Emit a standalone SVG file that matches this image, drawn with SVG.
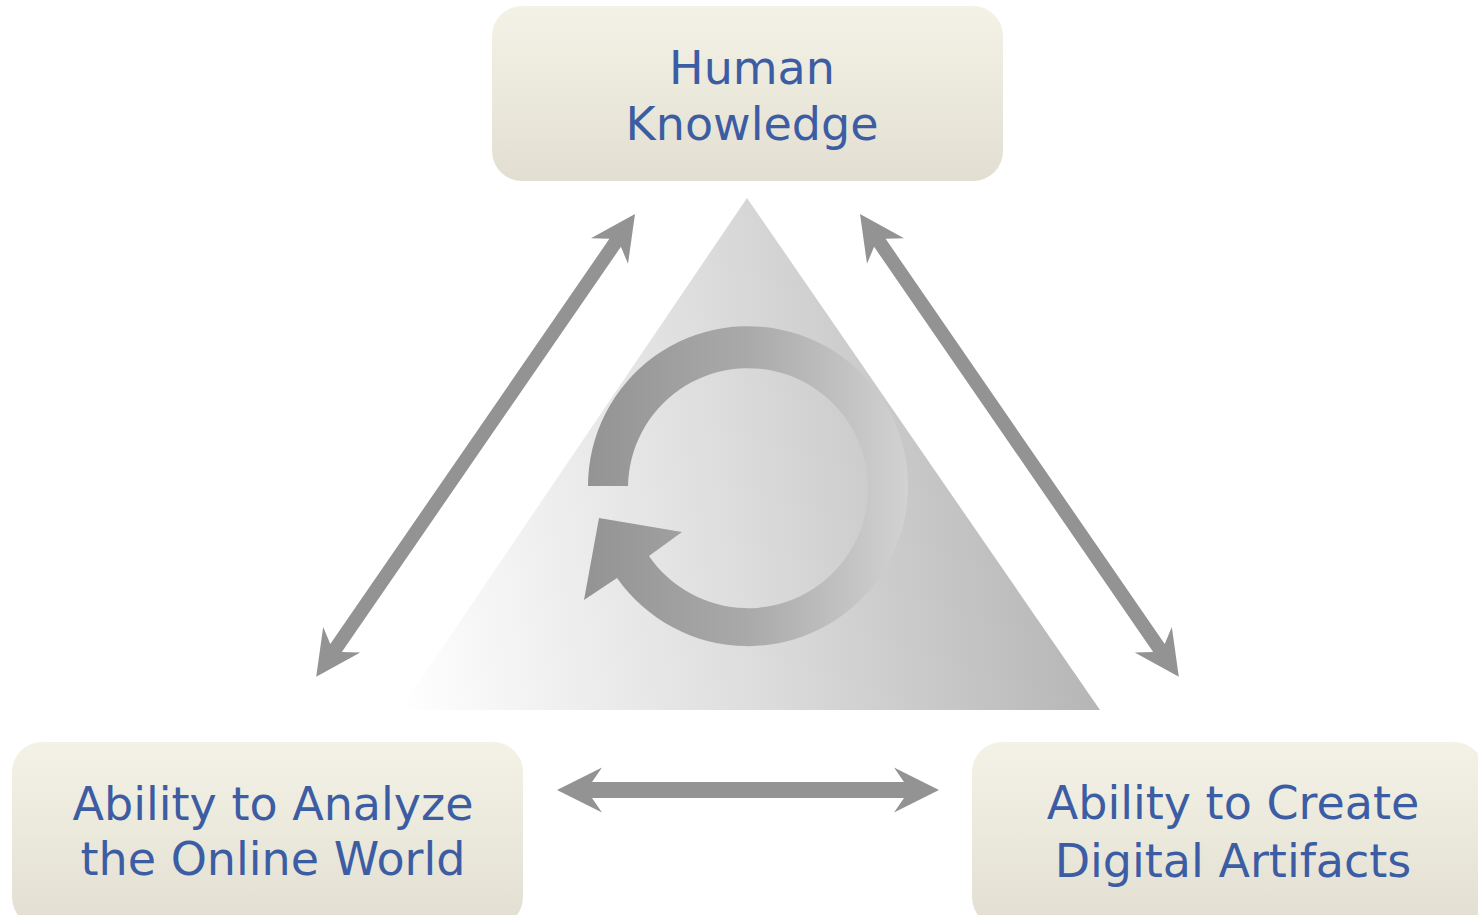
<svg xmlns="http://www.w3.org/2000/svg" width="1478" height="915" viewBox="0 0 1478 915">
  <defs>
    <linearGradient id="boxGrad" x1="0" y1="0" x2="0" y2="1">
      <stop offset="0" stop-color="#f4f2e6"/>
      <stop offset="1" stop-color="#e2dfd2"/>
    </linearGradient>
    <linearGradient id="triGrad" gradientUnits="userSpaceOnUse" x1="400" y1="700" x2="1100" y2="600">
      <stop offset="0" stop-color="#ffffff"/>
      <stop offset="0.5" stop-color="#dddddd"/>
      <stop offset="1" stop-color="#b4b4b4"/>
    </linearGradient>
    <linearGradient id="ringGrad" gradientUnits="userSpaceOnUse" x1="584" y1="0" x2="908" y2="0">
      <stop offset="0" stop-color="#939393"/>
      <stop offset="0.5" stop-color="#a9a9a9"/>
      <stop offset="1" stop-color="#d2d2d2"/>
    </linearGradient>
    <style>
      .box { fill: url(#boxGrad); }
      .label { font-family: "DejaVu Sans", "Liberation Sans", sans-serif; font-size: 46px; fill: #3c5da3; text-anchor: middle; }
      .arrow { fill: #939393; }
    </style>
  </defs>

  <g id="center-triangle">
    <polygon points="747,198 1100,710 400,710" fill="url(#triGrad)"/>
  </g>

  <g id="cycle-arrow">
    <path d="M 588 486 A 160 160 0 1 1 617 578 L 584 600 L 599 518 L 682 532 L 649 556 A 120 120 0 1 0 628 486 Z" fill="url(#ringGrad)"/>
  </g>

  <g id="connectors">
    <polygon class="arrow" transform="translate(635,214) rotate(124.56)" points="0,0 45,-22.5 35,-7 527,-7 517,-22.5 562,0 517,22.5 527,7 35,7 45,22.5"/>
    <polygon class="arrow" transform="translate(860,214) rotate(55.44)" points="0,0 45,-22.5 35,-7 527,-7 517,-22.5 562,0 517,22.5 527,7 35,7 45,22.5"/>
    <polygon class="arrow" transform="translate(557,790)" points="0,0 45,-22.5 35,-8 347,-8 337,-22.5 382,0 337,22.5 347,8 35,8 45,22.5"/>
  </g>

  <g id="node-human-knowledge">
    <rect class="box" x="492" y="6" width="511" height="175" rx="30" ry="30"/>
    <text class="label" x="752" y="84">Human</text>
    <text class="label" x="752" y="140">Knowledge</text>
  </g>

  <g id="node-analyze">
    <rect class="box" x="12" y="742" width="511" height="185" rx="30" ry="30"/>
    <text class="label" x="273" y="820">Ability to Analyze</text>
    <text class="label" x="273" y="875">the Online World</text>
  </g>

  <g id="node-create">
    <rect class="box" x="972" y="742" width="512" height="185" rx="30" ry="30"/>
    <text class="label" x="1233" y="819">Ability to Create</text>
    <text class="label" x="1233" y="877">Digital Artifacts</text>
  </g>
</svg>
